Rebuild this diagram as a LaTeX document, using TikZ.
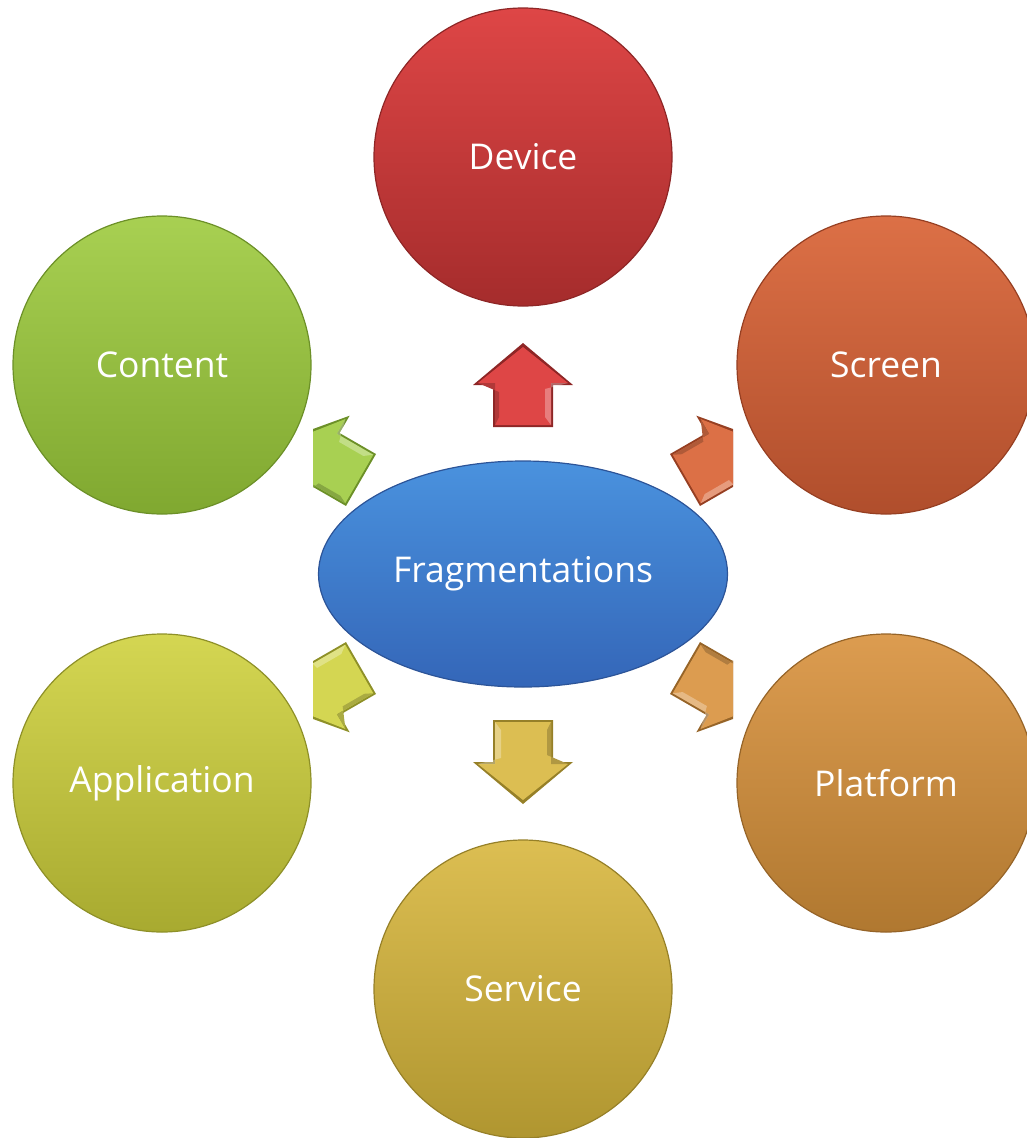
\documentclass[tikz,border=0pt]{standalone}
\usepackage{fontspec}
\setmainfont{Open Sans}
\usetikzlibrary{shapes.geometric}
\definecolor{devT}{HTML}{DE4646}\definecolor{devB}{HTML}{A52C2C}\definecolor{devD}{HTML}{8E2626}
\definecolor{scrT}{HTML}{DC7046}\definecolor{scrB}{HTML}{B04E2C}\definecolor{scrD}{HTML}{963F22}
\definecolor{plaT}{HTML}{DC9C50}\definecolor{plaB}{HTML}{B07830}\definecolor{plaD}{HTML}{966428}
\definecolor{serT}{HTML}{DCBE52}\definecolor{serB}{HTML}{B09630}\definecolor{serD}{HTML}{968028}
\definecolor{appT}{HTML}{D4D652}\definecolor{appB}{HTML}{A8AA30}\definecolor{appD}{HTML}{8E9028}
\definecolor{conT}{HTML}{A8D052}\definecolor{conB}{HTML}{80A830}\definecolor{conD}{HTML}{6C9028}
\definecolor{fraT}{HTML}{4A92DE}\definecolor{fraB}{HTML}{3466B8}\definecolor{fraD}{HTML}{2C5498}
\tikzset{
  ball/.style n args={3}{circle, minimum size=298pt, inner sep=0pt, top color=#1, bottom color=#2, draw=#3, line width=1.2pt, text=white, font=\fontsize{35.5}{38}\selectfont},
  hub/.style={ellipse, minimum width=409pt, minimum height=226pt, inner sep=0pt, top color=fraT, bottom color=fraB, draw=fraD, line width=1.2pt, text=white, font=\fontsize{35.5}{38}\selectfont},
}
\newcommand{\fragarrow}[5]{%
  \begin{scope}[shift={(#1,#2)}, rotate=#3]
    \fill[#5] (0,-30) -- (42,-30) -- (42,-50) -- (84,0) -- (42,50) -- (42,30) -- (0,30) -- cycle;
    \fill[#4] (2,-28) -- (44,-28) -- (44,-45) -- (80,0) -- (44,45) -- (44,28) -- (2,28) -- cycle;
    \fill[#4!80!black] (2,-28) -- (44,-28) -- (44,-45) -- (35,-24) -- (10,-24) -- cycle;
    \fill[white, opacity=0.3] (2,28) -- (10,22) -- (38,22) -- (44,45) -- (44,28) -- cycle;
  \end{scope}}
\begin{document}
\begin{tikzpicture}[x=1pt, y=-1pt]
\useasboundingbox (0,0) rectangle (1026,1138);
\node[ball={devT}{devB}{devD}] (device) at (523,157) {Device};
\node[ball={scrT}{scrB}{scrD}] (screen) at (886,365) {Screen};
\node[ball={plaT}{plaB}{plaD}] (platform) at (886,783) {Platform};
\node[ball={serT}{serB}{serD}] (service) at (523,989) {Service};
\node[ball={appT}{appB}{appD}] (application) at (162,783) {Application};
\node[ball={conT}{conB}{conD}] (content) at (162,365) {Content};
\node[hub] (frag) at (523,574) {Fragmentations};
\begin{scope}
  \clip (313,0) rectangle (733,1138);
  \fragarrow{523}{427}{90}{devT}{devD}
  \fragarrow{523}{720}{-90}{serT}{serD}
  \fragarrow{685}{480}{30}{scrT}{scrD}
  \fragarrow{685}{668}{-30}{plaT}{plaD}
  \fragarrow{361}{480}{150}{conT}{conD}
  \fragarrow{361}{668}{210}{appT}{appD}
\end{scope}
\end{tikzpicture}
\end{document}
